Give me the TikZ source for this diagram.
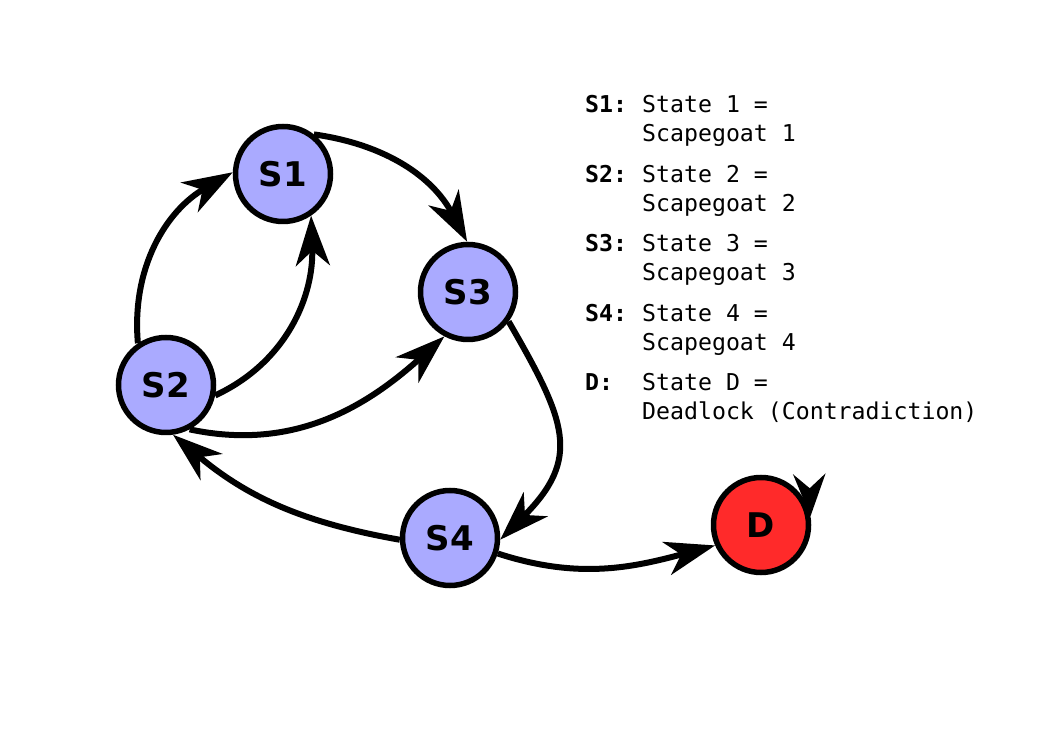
\documentclass[tikz,border=0pt]{standalone}
\usepackage{fontspec}
\setmainfont{DejaVu Sans}
\setmonofont{DejaVu Sans Mono}
\usetikzlibrary{arrows.meta}
\definecolor{stfill}{RGB}{170,170,255}
\definecolor{dfill}{RGB}{255,42,42}
\begin{document}
\begin{tikzpicture}[x=1pt,y=1pt,
  st/.style={circle, draw=black, line width=5.5pt, fill=stfill, minimum size=95pt, inner sep=0pt,
    font=\fontsize{34}{38}\selectfont\bfseries},
  dst/.style={st, fill=dfill},
  arr/.style={line width=6pt, -{Stealth[length=50pt, width=34pt, inset=15pt]}},
  sarr/.style={line width=6pt, -{Stealth[length=42pt, width=32pt, inset=14pt]}},
  lg/.style={anchor=base west, inner sep=0pt, font=\fontsize{23.2}{29}\selectfont\ttfamily},
  lk/.style={lg, font=\fontsize{23.2}{29}\selectfont\ttfamily\bfseries}]
\useasboundingbox (0,0) rectangle (1052,744);
\node[st] (S1) at (283,570) {S1};
\node[st] (S2) at (166,359) {S2};
\node[st] (S3) at (468,452) {S3};
\node[st] (S4) at (450,206) {S4};
\node[dst] (D) at (761,219) {D};

\draw[arr] (S2.124) to[out=95, in=210] (S1.178);
\draw[arr] (S2.348) to[out=25, in=272] (S1.304);
\draw[arr] (S1.52) to[out=-8, in=118] (S3.91);
\draw[arr] (S2.298) to[out=-12, in=222] (S3.242);
\draw[arr] (S3.324) to[out=-60, in=45, looseness=1.35] (S4.358);
\draw[arr] (S4.182) to[out=170, in=320] (S2.278);
\draw[arr] (S4.342) to[out=-18, in=195] (D.204);
\coordinate (Dl) at (810,245);
\draw[sarr] (Dl) -- (D.10);

\node[lk] (k1) at (585,631) {S1:};
\node[lg] (a1) at (642,631) {State 1 =};
\node[lg] (b1) at (642,602) {Scapegoat 1};
\node[lk] (k2) at (585,561.5) {S2:};
\node[lg] (a2) at (642,561.5) {State 2 =};
\node[lg] (b2) at (642,532.5) {Scapegoat 2};
\node[lk] (k3) at (585,492) {S3:};
\node[lg] (a3) at (642,492) {State 3 =};
\node[lg] (b3) at (642,463) {Scapegoat 3};
\node[lk] (k4) at (585,422.5) {S4:};
\node[lg] (a4) at (642,422.5) {State 4 =};
\node[lg] (b4) at (642,393.5) {Scapegoat 4};
\node[lk] (k5) at (585,353) {D:};
\node[lg] (a5) at (642,353) {State D =};
\node[lg] (b5) at (642,324) {Deadlock (Contradiction)};
\end{tikzpicture}
\end{document}
